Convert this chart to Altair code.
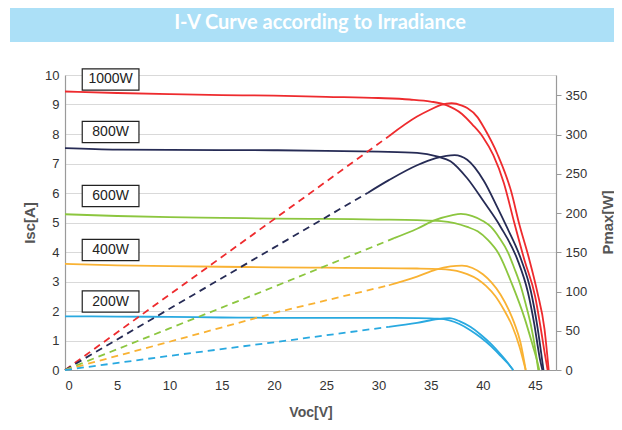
import altair as alt
import pandas as pd

title_text = "I-V Curve according to Irradiance"
series = ["1000W", "800W", "600W", "400W", "200W"]
colors = ["#EE2B2E", "#262B55", "#8CC63F", "#F9B233", "#29A9E0"]

# ---- I-V curves (left axis, A) ----
iv_v_1000 = [0, 5, 10, 15, 20, 25, 30, 33, 35, 36.5, 38, 39, 40, 41, 42, 43, 44, 45, 45.5, 46, 46.2]
iv_i_1000 = [9.44, 9.39, 9.35, 9.32, 9.30, 9.26, 9.22, 9.17, 9.10, 8.98, 8.68, 8.32, 7.90, 7.28, 6.35, 5.00, 3.70, 2.50, 1.50, 0.40, 0]
iv_v_800 = [0, 5, 10, 20, 25, 30, 33.7, 35.7, 36.9, 38.5, 40.1, 41.7, 43.3, 44.3, 44.9, 45.5, 45.7]
iv_i_800 = [7.52, 7.47, 7.46, 7.45, 7.43, 7.40, 7.36, 7.23, 7.08, 6.50, 5.70, 4.85, 3.75, 2.65, 1.60, 0.30, 0]
iv_v_600 = [0, 5, 10, 15, 20, 25, 30, 33.7, 36, 37.3, 38.5, 39.5, 40.5, 41.5, 42.8, 44.0, 44.8, 45.2, 45.4]
iv_i_600 = [5.28, 5.22, 5.18, 5.16, 5.13, 5.12, 5.10, 5.08, 5.05, 4.98, 4.85, 4.70, 4.40, 3.95, 2.90, 1.75, 0.80, 0.30, 0]
iv_v_400 = [0, 5, 10, 15, 20, 25, 30, 33.7, 36, 37.5, 38.5, 39.5, 40.3, 41.2, 42, 42.8, 43.5, 44.1]
iv_i_400 = [3.60, 3.55, 3.52, 3.50, 3.48, 3.47, 3.45, 3.44, 3.42, 3.36, 3.25, 3.08, 2.85, 2.50, 2.05, 1.50, 0.80, 0]
iv_v_200 = [0, 5, 10, 15, 20, 25, 30, 33.7, 35.7, 36.8, 37.8, 38.8, 39.8, 40.8, 41.7, 42.4, 42.9]
iv_i_200 = [1.82, 1.81, 1.80, 1.78, 1.77, 1.77, 1.77, 1.76, 1.74, 1.68, 1.55, 1.35, 1.10, 0.80, 0.48, 0.22, 0]

# ---- P-V curves (right axis, W): dashed part ----
pvd_v_1000 = [0, 10, 20, 31]
pvd_p_1000 = [0, 96, 192, 298]
pvd_v_800 = [0, 10, 20, 29]
pvd_p_800 = [0, 78, 156, 226]
pvd_v_600 = [0, 10, 20, 31.5]
pvd_p_600 = [0, 53, 106, 168]
pvd_v_400 = [0, 10, 20.4, 31]
pvd_p_400 = [0, 36, 74, 108]
pvd_v_200 = [0, 10, 20.4, 31]
pvd_p_200 = [0, 18, 36, 55]

# ---- P-V curves: solid part ----
pvs_v_1000 = [31, 33.7, 35, 36, 37, 38, 38.5, 39.5, 40.1, 41.4, 42.7, 43.5, 44.4, 45.2, 45.9, 46.3]
pvs_p_1000 = [298, 323, 332, 338, 340, 337, 334, 322, 309, 275, 228, 185, 143, 100, 52, 0]
pvs_v_800 = [29, 31, 33.7, 35.5, 37.3, 38.5, 40.1, 41.4, 42.3, 43.6, 44.6, 45.2, 45.8]
pvs_p_800 = [226, 242, 261, 270, 274, 268, 241, 207, 182, 143, 100, 57, 0]
pvs_v_600 = [31.5, 33.7, 35.4, 37, 37.9, 39, 40, 40.8, 41.6, 42.4, 43, 43.6, 44.1, 44.6, 45, 45.3]
pvs_p_600 = [168, 180, 191, 197, 199, 196, 190, 182, 168, 150, 130, 108, 84, 57, 28, 0]
pvs_v_400 = [31, 33.7, 35.5, 36.9, 38, 39, 40, 40.8, 41.7, 42.5, 43, 43.6, 44.1]
pvs_p_400 = [108, 119, 128, 132, 133, 130, 122, 112, 96, 76, 60, 35, 0]
pvs_v_200 = [31, 33.7, 35.7, 36.8, 37.8, 38.8, 39.8, 40.8, 41.7, 42.4, 42.9]
pvs_p_200 = [55, 60, 65, 66, 62, 55, 45, 33, 20, 9, 0]

# ---- label boxes ----
label_isc = [9.85, 8.07, 5.9, 4.07, 2.32]
box_v_left, box_v_right, box_half = 1.65, 7.08, 0.36

x_ticks = [0, 5, 10, 15, 20, 25, 30, 35, 40, 45]
y_left_ticks = [0, 1, 2, 3, 4, 5, 6, 7, 8, 9, 10]
y_right_ticks = [0, 50, 100, 150, 200, 250, 300, 350]


def long_df(vs, ys, col):
    frames = []
    for s, v, y in zip(series, vs, ys):
        frames.append(pd.DataFrame({"V": v, col: y, "series": s}))
    return pd.concat(frames, ignore_index=True)


iv_df = long_df([iv_v_1000, iv_v_800, iv_v_600, iv_v_400, iv_v_200],
                [iv_i_1000, iv_i_800, iv_i_600, iv_i_400, iv_i_200], "I")
pvd_df = long_df([pvd_v_1000, pvd_v_800, pvd_v_600, pvd_v_400, pvd_v_200],
                 [pvd_p_1000, pvd_p_800, pvd_p_600, pvd_p_400, pvd_p_200], "P")
pvs_df = long_df([pvs_v_1000, pvs_v_800, pvs_v_600, pvs_v_400, pvs_v_200],
                 [pvs_p_1000, pvs_p_800, pvs_p_600, pvs_p_400, pvs_p_200], "P")
lab_df = pd.DataFrame({
    "label": series,
    "isc": label_isc,
    "x1": box_v_left,
    "x2": box_v_right,
    "xc": (box_v_left + box_v_right) / 2,
})
lab_df["y1"] = lab_df["isc"] - box_half
lab_df["y2"] = lab_df["isc"] + box_half

FONT = "Liberation Sans, Arial, sans-serif"
AXC = "#9a9a9a"

x_scale = alt.Scale(domain=[0, 47], nice=False)
left_scale = alt.Scale(domain=[0, 10], nice=False)
right_scale = alt.Scale(domain=[0, 376], nice=False)

x_axis = alt.Axis(values=x_ticks, grid=False, ticks=False, domainColor=AXC, domainWidth=1.2,
                  labelFont=FONT, labelFontSize=13, labelColor="#333", labelPadding=9,
                  title="Voc[V]", titleFont=FONT, titleFontSize=14, titleFontWeight="bold",
                  titleColor="#555", titlePadding=13)
left_axis = alt.Axis(orient="left", values=y_left_ticks, grid=True, gridColor="#d9d9d9",
                     gridWidth=1.2, ticks=False, domainColor=AXC, domainWidth=1.2,
                     labelFont=FONT, labelFontSize=13, labelColor="#333", labelPadding=6,
                     title="Isc[A]", titleFont=FONT, titleFontSize=15, titleFontWeight="bold",
                     titleColor="#555", titlePadding=7)
right_axis = alt.Axis(orient="right", values=y_right_ticks, grid=False, ticks=True, tickSize=5,
                      tickColor=AXC, domainColor=AXC, domainWidth=1.2,
                      labelFont=FONT, labelFontSize=13, labelColor="#333", labelPadding=4,
                      title="Pmax[W]", titleAngle=270, titleFont=FONT, titleFontSize=15,
                      titleFontWeight="bold", titleColor="#555",
                      titleX=51, titleY=147, titleAlign="center", titleBaseline="middle")

color = alt.Color("series:N", scale=alt.Scale(domain=series, range=colors), legend=None)


def X(field):
    return alt.X(field, type="quantitative", scale=x_scale, axis=x_axis, title="Voc[V]")


def YL(field):
    return alt.Y(field, type="quantitative", scale=left_scale, axis=left_axis, title="Isc[A]")


def YR(field):
    return alt.Y(field, type="quantitative", scale=right_scale, axis=right_axis, title="Pmax[W]")


iv = alt.Chart(iv_df).mark_line(strokeWidth=1.8, interpolate="monotone").encode(
    x=X("V"), y=YL("I"), color=color)

boxes = alt.Chart(lab_df).mark_rect(fill="white", stroke="#222", strokeWidth=1.2).encode(
    x=X("x1"), x2="x2", y=YL("y1"), y2="y2")

box_text = alt.Chart(lab_df).mark_text(font=FONT, fontSize=14, color="#222",
                                       align="center", baseline="middle").encode(
    x=X("xc"), y=YL("isc"), text="label:N")

banner_df = pd.DataFrame({"t": [title_text]})
banner = alt.Chart(banner_df).mark_rect(color="#ACE0F7").encode(
    x=alt.value(-55), x2=alt.value(560), y=alt.value(-67), y2=alt.value(-33))
banner_text = alt.Chart(banner_df).mark_text(
    font="Liberation Sans Narrow, Lato, sans-serif", fontSize=20, fontWeight="bold",
    color="white", align="center", baseline="middle").encode(
    x=alt.value(255), y=alt.value(-52), text="t:N")

pv_dash = alt.Chart(pvd_df).mark_line(strokeWidth=1.8, strokeDash=[7, 5]).encode(
    x=X("V"), y=YR("P"), color=color)
pv_solid = alt.Chart(pvs_df).mark_line(strokeWidth=1.8, interpolate="monotone").encode(
    x=X("V"), y=YR("P"), color=color)

left_group = alt.layer(banner, banner_text, iv, boxes, box_text)
right_group = alt.layer(pv_dash, pv_solid)

chart = alt.layer(left_group, right_group).resolve_scale(y="independent").properties(
    width=491, height=295,
    autosize=alt.AutoSizeParams(type="none"),
    padding={"left": 57, "top": 67, "right": 58, "bottom": 52},
    background="white",
).configure_view(stroke=None)

chart.save("out.html", embed_options={"renderer": "svg", "actions": False})
